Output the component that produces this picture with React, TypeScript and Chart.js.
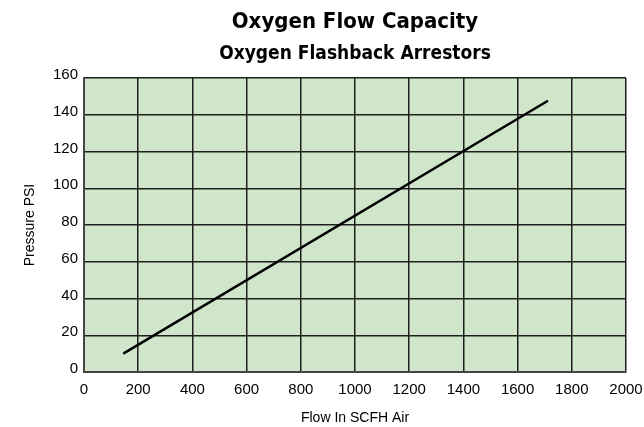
import React, { useEffect, useRef } from 'react';
import { Chart, registerables } from 'chart.js';

Chart.register(...registerables);

const TITLE = 'Oxygen Flow Capacity';
const SUBTITLE = 'Oxygen Flashback Arrestors';
const X_LABEL = 'Flow In SCFH Air';
const Y_LABEL = 'Pressure PSI';

const flowScfh = [145, 1712];
const pressurePsi = [10, 147.6];

const xTicks = [0, 200, 400, 600, 800, 1000, 1200, 1400, 1600, 1800, 2000];
const yTicks = [0, 20, 40, 60, 80, 100, 120, 140, 160];

const NARROW = "'DejaVu Sans Condensed', 'Liberation Sans Narrow', sans-serif";
const SANS = "'Liberation Sans', Arial, sans-serif";

const plotBg = {
  id: 'plotBg',
  beforeDraw(chart: any) {
    const { ctx, chartArea } = chart;
    if (!chartArea) return;
    ctx.save();
    ctx.fillStyle = '#cfe6cb';
    ctx.fillRect(chartArea.left, chartArea.top, chartArea.right - chartArea.left, chartArea.bottom - chartArea.top);
    ctx.restore();
  },
};

export default function App() {
  const ref = useRef<HTMLCanvasElement | null>(null);

  useEffect(() => {
    if (!ref.current) return;
    const chart = new Chart(ref.current, {
      type: 'line',
      data: {
        datasets: [
          {
            label: 'Oxygen',
            data: flowScfh.map((x, i) => ({ x, y: pressurePsi[i] })),
            borderColor: '#000000',
            borderWidth: 2.5,
            pointRadius: 0,
            tension: 0,
            fill: false,
          },
        ],
      },
      options: {
        responsive: false,
        animation: false,
        devicePixelRatio: 1,
        layout: { padding: { left: 0, right: 18, top: 0, bottom: 0 } },
        plugins: {
          legend: { display: false },
          tooltip: { enabled: false },
          title: {
            display: true,
            fullSize: false,
            text: TITLE,
            color: '#000',
            font: { family: NARROW, size: 22, weight: 'bold', lineHeight: 1 },
            padding: { top: 11.5, bottom: 0 },
          },
          subtitle: {
            display: true,
            fullSize: false,
            text: SUBTITLE,
            color: '#000',
            font: { family: NARROW, size: 19, weight: 'bold', lineHeight: 1 },
            padding: { top: 11.5, bottom: 14 },
          },
        },
        scales: {
          x: {
            type: 'linear',
            min: xTicks[0],
            max: xTicks[xTicks.length - 1],
            afterBuildTicks: (s: any) => {
              s.ticks = xTicks.map((v) => ({ value: v }));
            },
            afterFit: (s: any) => {
              s.height = 55;
              s.paddingLeft = 0;
              s.paddingRight = 0;
            },
            ticks: {
              color: '#000',
              padding: 9,
              maxRotation: 0,
              autoSkip: false,
              font: { family: SANS, size: 15 },
              callback: (v: any) => String(v),
            },
            grid: { color: '#1e1e1e', lineWidth: 1.5, drawTicks: false },
            border: { color: '#454545', width: 2 },
            title: {
              display: true,
              text: X_LABEL,
              color: '#000',
              font: { family: SANS, size: 14 },
              padding: { top: 0, bottom: 0 },
            },
          },
          y: {
            type: 'linear',
            min: yTicks[0],
            max: yTicks[yTicks.length - 1],
            afterBuildTicks: (s: any) => {
              s.ticks = yTicks.map((v) => ({ value: v }));
            },
            afterFit: (s: any) => {
              s.width = 84;
              s.paddingTop = 0;
              s.paddingBottom = 0;
            },
            ticks: {
              color: '#000',
              padding: 6,
              labelOffset: -3,
              autoSkip: false,
              font: { family: SANS, size: 15 },
              callback: (v: any) => String(v),
            },
            grid: { color: '#1e1e1e', lineWidth: 1.5, drawTicks: false },
            border: { color: '#454545', width: 2 },
            title: {
              display: true,
              text: Y_LABEL,
              color: '#000',
              font: { family: SANS, size: 14 },
              padding: { top: 22, bottom: 0 },
            },
          },
        },
      },
      plugins: [plotBg],
    } as any);
    return () => chart.destroy();
  }, []);

  return (
    <div style={{ position: 'absolute', left: 0, top: 0, width: 644, height: 427, background: '#fff' }}>
      <canvas ref={ref} width={644} height={427} style={{ display: 'block' }} />
    </div>
  );
}
